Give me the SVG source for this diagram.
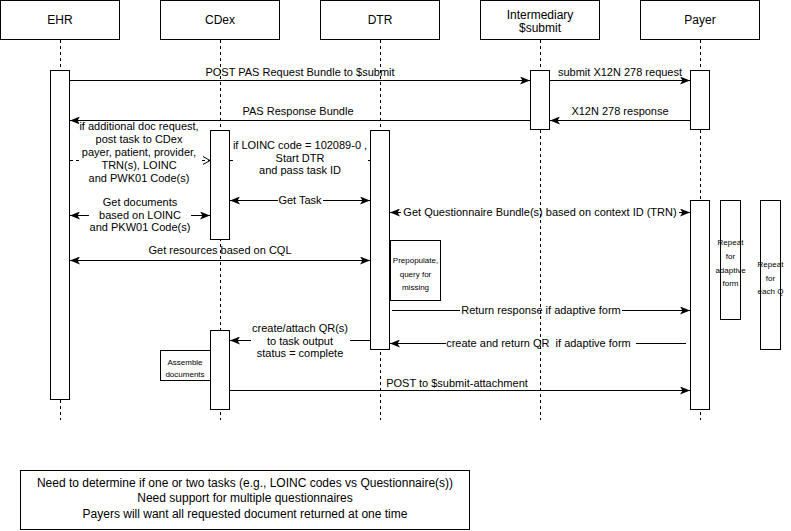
<svg xmlns="http://www.w3.org/2000/svg" width="791" height="531" viewBox="0 0 791 531">
<style>
text{font-family:"Liberation Sans",Arial,Helvetica,sans-serif;fill:#000;text-anchor:middle}
.h{font-size:12px}
.l{font-size:11px}
.s{font-size:8px}
.n{font-size:12px}
.box{fill:#fff;stroke:#000;stroke-width:1}
.life{stroke:#000;stroke-width:1;stroke-dasharray:3 3;fill:none}
.c{stroke:#000;stroke-width:1;fill:none}
.cd{stroke:#000;stroke-width:1;fill:none;stroke-dasharray:3 3}
.bg{fill:#fff;stroke:none}
</style>
<defs>
<marker id="arr" markerUnits="userSpaceOnUse" markerWidth="10" markerHeight="8" refX="10" refY="4" orient="auto-start-reverse">
<path d="M0,0 L10,4 L0,8 L2.5,4 z" fill="#000"/>
</marker>
<marker id="open" markerUnits="userSpaceOnUse" markerWidth="9" markerHeight="10" refX="8" refY="5" orient="auto">
<path d="M1,1 L8,5 L1,9" fill="none" stroke="#000" stroke-width="1"/>
</marker>
</defs>
<rect width="791" height="531" fill="#fff"/>

<g id="connectors">
<line class="c" x1="70" y1="80.5" x2="530" y2="80.5" marker-end="url(#arr)"/>
<text class="l" x="300" y="76">POST PAS Request Bundle to $submit</text>
<line class="c" x1="550" y1="80.5" x2="690" y2="80.5" marker-end="url(#arr)"/>
<text class="l" x="620" y="76">submit X12N 278 request</text>
<line class="c" x1="690" y1="120.5" x2="550" y2="120.5" marker-end="url(#arr)"/>
<text class="l" x="620" y="115">X12N 278 response</text>
<line class="c" x1="530" y1="120.5" x2="70" y2="120.5" marker-end="url(#arr)"/>
<text class="l" x="298" y="115">PAS Response Bundle</text>

<line class="cd" x1="70" y1="160.5" x2="210" y2="160.5" marker-end="url(#open)"/>
<rect class="bg" x="79" y="121.5" width="121" height="64"/>
<text class="l" x="139" y="130">if additional doc request,</text>
<text class="l" x="139" y="143">post task to CDex</text>
<text class="l" x="139" y="156">payer, patient, provider,</text>
<text class="l" x="139" y="169">TRN(s), LOINC</text>
<text class="l" x="139" y="182">and PWK01 Code(s)</text>

<line class="cd" x1="230" y1="160.5" x2="370" y2="160.5"/>
<rect class="bg" x="234" y="138" width="133" height="38"/>
<text class="l" x="300" y="149">if LOINC code = 102089-0 ,</text>
<text class="l" x="300" y="161.5">Start DTR</text>
<text class="l" x="300" y="174">and pass task ID</text>

<line class="c" x1="230" y1="200.5" x2="370" y2="200.5" marker-start="url(#arr)" marker-end="url(#arr)"/>
<rect class="bg" x="278" y="194" width="45" height="13"/>
<text class="l" x="300" y="204">Get Task</text>

<line class="c" x1="70" y1="215.5" x2="210" y2="215.5" marker-start="url(#arr)" marker-end="url(#arr)"/>
<rect class="bg" x="89" y="196" width="102" height="38"/>
<text class="l" x="140" y="206">Get documents</text>
<text class="l" x="140" y="219">based on LOINC</text>
<text class="l" x="140" y="231">and PKW01 Code(s)</text>

<line class="c" x1="390" y1="212.5" x2="690" y2="212.5" marker-start="url(#arr)" marker-end="url(#arr)"/>
<rect class="bg" x="401" y="206" width="278" height="13"/>
<text class="l" x="540" y="216">Get Questionnaire Bundle(s) based on context ID (TRN)</text>

<line class="c" x1="70" y1="260.5" x2="370" y2="260.5" marker-start="url(#arr)" marker-end="url(#arr)"/>
<text class="l" x="220" y="254">Get resources based on CQL</text>

<line class="c" x1="392" y1="310.5" x2="690" y2="310.5" marker-end="url(#arr)"/>
<rect class="bg" x="460" y="304" width="162" height="13"/>
<text class="l" x="541" y="314">Return response if adaptive form</text>

<line class="c" x1="686" y1="343.5" x2="390" y2="343.5" marker-end="url(#arr)"/>
<rect class="bg" x="446" y="337" width="190" height="13"/>
<text class="l" x="540" y="347" xml:space="preserve">create and return QR  if adaptive form </text>

<line class="c" x1="370" y1="340.5" x2="230" y2="340.5" marker-end="url(#arr)"/>
<rect class="bg" x="251" y="320" width="99" height="40"/>
<text class="l" x="300" y="332">create/attach QR(s)</text>
<text class="l" x="300" y="344.5">to task output</text>
<text class="l" x="300" y="357">status = complete</text>

<line class="c" x1="230" y1="390.5" x2="690" y2="390.5" marker-end="url(#arr)"/>
<text class="l" x="457" y="387">POST to $submit-attachment</text>
</g>

<g id="ehr">
<line class="life" x1="60.5" y1="40" x2="60.5" y2="420"/>
<rect class="box" x="0.5" y="0.5" width="119" height="39"/>
<text class="h" x="60" y="24">EHR</text>
<rect class="box" x="50.5" y="70.5" width="19" height="329"/>
</g>

<g id="cdex">
<line class="life" x1="220.5" y1="40" x2="220.5" y2="420"/>
<rect class="box" x="160.5" y="0.5" width="119" height="39"/>
<text class="h" x="220" y="24">CDex</text>
<rect class="box" x="210.5" y="130.5" width="19" height="109"/>
<rect class="box" x="210.5" y="330.5" width="19" height="79"/>
</g>

<g id="assemble">
<rect class="box" x="160.5" y="350.5" width="50" height="30"/>
<text class="s" x="185" y="365">Assemble</text>
<text class="s" x="185" y="377">documents</text>
</g>

<g id="dtr">
<line class="life" x1="380.5" y1="40" x2="380.5" y2="420"/>
<rect class="box" x="320.5" y="0.5" width="119" height="39"/>
<text class="h" x="380" y="24">DTR</text>
<rect class="box" x="370.5" y="130.5" width="19" height="219"/>
</g>

<g id="prepopulate">
<rect class="box" x="390.5" y="240.5" width="50" height="60"/>
<text class="s" x="415.5" y="263">Prepopulate,</text>
<text class="s" x="415.5" y="276.5">query for</text>
<text class="s" x="415.5" y="290">missing</text>
</g>

<g id="intermediary">
<line class="life" x1="540.5" y1="40" x2="540.5" y2="420"/>
<rect class="box" x="480.5" y="0.5" width="119" height="39"/>
<text class="h" x="540" y="19">Intermediary</text>
<text class="h" x="540" y="32">$submit</text>
<rect class="box" x="530.5" y="70.5" width="19" height="59"/>
</g>

<g id="payer">
<line class="life" x1="700.5" y1="40" x2="700.5" y2="420"/>
<rect class="box" x="640.5" y="0.5" width="119" height="39"/>
<text class="h" x="700" y="24">Payer</text>
<rect class="box" x="690.5" y="70.5" width="19" height="59"/>
<rect class="box" x="690.5" y="200.5" width="19" height="209"/>
</g>

<g id="repeat-adaptive">
<rect class="box" x="720.5" y="200.5" width="20" height="119"/>
<text class="s" x="730.5" y="245">Repeat</text>
<text class="s" x="730.5" y="258.5">for</text>
<text class="s" x="730.5" y="272.5">adaptive</text>
<text class="s" x="730.5" y="286">form</text>
</g>

<g id="repeat-each">
<rect class="box" x="760.5" y="200.5" width="20" height="149"/>
<text class="s" x="770.5" y="267">Repeat</text>
<text class="s" x="770.5" y="280.5">for</text>
<text class="s" x="770.5" y="294">each Q</text>
</g>

<g id="note">
<rect class="box" x="20.5" y="470.5" width="449" height="59"/>
<text class="n" x="245" y="487">Need to determine if one or two tasks (e.g., LOINC codes vs Questionnaire(s))</text>
<text class="n" x="245" y="502">Need support for multiple questionnaires</text>
<text class="n" x="245" y="518">Payers will want all requested document returned at one time</text>
</g>
</svg>
